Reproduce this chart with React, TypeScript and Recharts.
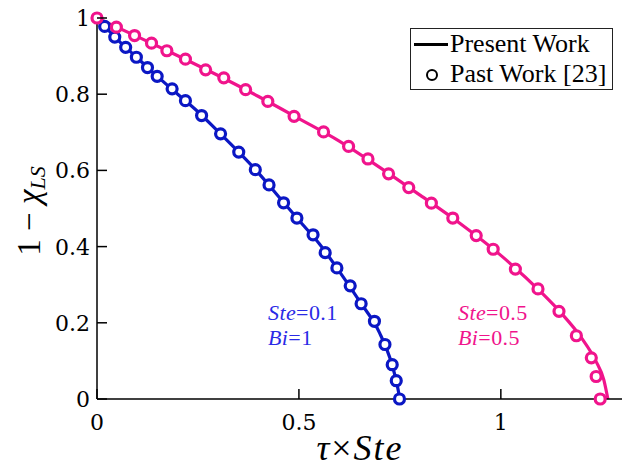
import React from 'react';
import { ComposedChart, Line, Scatter, XAxis, YAxis, Legend } from 'recharts';

const xTicks = [0, 0.5, 1];
const yTicks = [0, 0.2, 0.4, 0.6, 0.8, 1];

// Ste = 0.1, Bi = 1 (present work, solid line)
const blueLineX = [0, 0.05, 0.1, 0.15, 0.2, 0.25, 0.3, 0.35, 0.4, 0.45, 0.5, 0.55, 0.6, 0.65, 0.7, 0.73, 0.741, 0.75];
const blueLineY = [1, 0.944, 0.895, 0.846, 0.8, 0.754, 0.702, 0.649, 0.593, 0.531, 0.469, 0.408, 0.335, 0.257, 0.173, 0.092, 0.048, 0];
// Ste = 0.1, Bi = 1 (past work [23], circles)
const blueMarkX = [0.019, 0.044, 0.071, 0.0975, 0.125, 0.149, 0.186, 0.219, 0.259, 0.306, 0.351, 0.392, 0.426, 0.462, 0.495, 0.535, 0.565, 0.594, 0.627, 0.654, 0.687, 0.713, 0.731, 0.741, 0.749];
const blueMarkY = [0.978, 0.95, 0.923, 0.897, 0.87, 0.847, 0.814, 0.783, 0.744, 0.696, 0.648, 0.602, 0.562, 0.515, 0.475, 0.431, 0.384, 0.344, 0.297, 0.25, 0.204, 0.143, 0.09, 0.048, 0];

// Ste = 0.5, Bi = 0.5
const pinkLineX = [0, 0.1, 0.2, 0.3, 0.4, 0.5, 0.6, 0.7, 0.8, 0.9, 1.0, 1.1, 1.15, 1.2, 1.235, 1.255, 1.265];
const pinkLineY = [1, 0.951, 0.901, 0.849, 0.794, 0.736, 0.677, 0.608, 0.535, 0.46, 0.377, 0.28, 0.225, 0.16, 0.1, 0.05, 0];
const pinkMarkX = [0, 0.048, 0.093, 0.135, 0.173, 0.219, 0.269, 0.314, 0.368, 0.423, 0.488, 0.561, 0.623, 0.671, 0.722, 0.772, 0.828, 0.881, 0.939, 0.981, 1.036, 1.092, 1.144, 1.187, 1.224, 1.236, 1.246];
const pinkMarkY = [1, 0.976, 0.954, 0.934, 0.914, 0.892, 0.864, 0.843, 0.812, 0.781, 0.742, 0.701, 0.663, 0.63, 0.591, 0.555, 0.514, 0.475, 0.429, 0.393, 0.341, 0.289, 0.23, 0.166, 0.108, 0.059, 0];

const BLUE = '#0b17c4';
const PINK = '#f0148c';
const TICK_FONT = "'DejaVu Serif'";
const TEXT_FONT = "'Liberation Serif'";

const zip = (xs: number[], ys: number[]) => xs.map((x, i) => ({ x, y: ys[i] }));

const blueLine = zip(blueLineX, blueLineY);
const blueMarks = zip(blueMarkX, blueMarkY);
const pinkLine = zip(pinkLineX, pinkLineY);
const pinkMarks = zip(pinkMarkX, pinkMarkY);

const BottomTick = (props: any) => {
    const { x, y, payload } = props;
    return (
        <g>
            <line x1={x} x2={x} y1={y} y2={y - 10} stroke="#000" strokeWidth={1.5} />
            <text x={x} y={y + 31} textAnchor="middle" style={{ fontFamily: TICK_FONT, fontSize: 22 }} fill="#000">
                {String(payload.value)}
            </text>
        </g>
    );
};

const TopTick = (props: any) => {
    const { x, y } = props;
    return <line x1={x} x2={x} y1={y} y2={y + 10} stroke="#000" strokeWidth={1.5} />;
};

const LeftTick = (props: any) => {
    const { x, y, payload } = props;
    return (
        <g>
            <line x1={x} x2={x + 10} y1={y} y2={y} stroke="#000" strokeWidth={1.5} />
            <text x={x - 7} y={y + 8} textAnchor="end" style={{ fontFamily: TICK_FONT, fontSize: 22 }} fill="#000">
                {String(payload.value)}
            </text>
        </g>
    );
};

const RightTick = (props: any) => {
    const { x, y } = props;
    return <line x1={x} x2={x - 10} y1={y} y2={y} stroke="#000" strokeWidth={1.5} />;
};

const Ring = (color: string) => (props: any) => (
    <circle cx={props.cx} cy={props.cy} r={5} fill="#fff" stroke={color} strokeWidth={3.2} />
);

const LegendBox = () => (
    <div
        style={{
            width: 203,
            height: 62,
            boxSizing: 'border-box',
            border: '1.2px solid #222',
            background: '#fff',
            fontFamily: TEXT_FONT,
            fontSize: 26,
            color: '#000',
            position: 'relative',
        }}
    >
        <div style={{ position: 'absolute', left: 3, top: 14, width: 34, height: 2.5, background: '#000' }} />
        <div style={{ position: 'absolute', left: 39, top: 0, lineHeight: '30px', whiteSpace: 'nowrap' }}>Present Work</div>
        <div
            style={{
                position: 'absolute', left: 15, top: 40, width: 8, height: 8,
                borderRadius: '50%', border: '2.5px solid #000',
            }}
        />
        <div style={{ position: 'absolute', left: 39, top: 30, lineHeight: '30px', whiteSpace: 'nowrap' }}>Past Work [23]</div>
    </div>
);

const textStyle = (size: number, italic = false, spacing = 0) => ({
    fontFamily: TEXT_FONT,
    fontSize: size,
    fontStyle: italic ? 'italic' : 'normal',
    letterSpacing: spacing,
});

export default function App() {
    return (
        <div style={{ position: 'absolute', left: 0, top: 0, width: 629, height: 475, background: '#fff' }}>
            <ComposedChart width={629} height={475} margin={{ top: 18, right: 7, bottom: 0, left: 0 }}>
                <XAxis
                    xAxisId="b" dataKey="x" type="number" domain={[0, 1.3]} ticks={xTicks}
                    height={76} tickSize={0} tickMargin={0} tickLine={false}
                    axisLine={{ stroke: '#000', strokeWidth: 1.5 }} tick={<BottomTick />}
                />
                <XAxis
                    xAxisId="t" dataKey="x" type="number" orientation="top" domain={[0, 1.3]} ticks={xTicks}
                    height={0} tickSize={0} tickMargin={0} tickLine={false}
                    axisLine={{ stroke: '#000', strokeWidth: 1.5 }} tick={<TopTick />}
                />
                <YAxis
                    yAxisId="l" dataKey="y" type="number" domain={[0, 1]} ticks={yTicks}
                    width={97} tickSize={0} tickMargin={0} tickLine={false}
                    axisLine={{ stroke: '#000', strokeWidth: 1.5 }} tick={<LeftTick />}
                />
                <YAxis
                    yAxisId="r" dataKey="y" type="number" orientation="right" domain={[0, 1]} ticks={yTicks}
                    width={0} tickSize={0} tickMargin={0} tickLine={false}
                    axisLine={{ stroke: '#000', strokeWidth: 1.5 }} tick={<RightTick />}
                />
                <Line
                    xAxisId="b" yAxisId="l" data={blueLine} dataKey="y" type="monotone"
                    stroke={BLUE} strokeWidth={3.2} dot={false} isAnimationActive={false} name="Present Work"
                />
                <Scatter
                    xAxisId="b" yAxisId="l" data={blueMarks} dataKey="y"
                    shape={Ring(BLUE)} isAnimationActive={false} name="Past Work [23]"
                />
                <Line
                    xAxisId="t" yAxisId="r" data={pinkLine} dataKey="y" type="monotone"
                    stroke={PINK} strokeWidth={3.2} dot={false} isAnimationActive={false} name="Present Work "
                />
                <Scatter
                    xAxisId="t" yAxisId="r" data={pinkMarks} dataKey="y"
                    shape={Ring(PINK)} isAnimationActive={false} name="Past Work [23] "
                />
                <Legend
                    layout="vertical" align="center" verticalAlign="middle"
                    content={<LegendBox />}
                    wrapperStyle={{ position: 'absolute', left: 410, top: 28, width: 203, height: 62 }}
                />
            </ComposedChart>
            <svg width={629} height={475} style={{ position: 'absolute', left: 0, top: 0, pointerEvents: 'none' }}>
                <text x={360} y={460} textAnchor="middle" fill="#000" style={textStyle(36, false, 2)}>
                    <tspan style={textStyle(36, true, 2)}>τ</tspan>
                    <tspan>×</tspan>
                    <tspan style={textStyle(36, true, 2)}>Ste</tspan>
                </text>
                <text transform="translate(40,211) rotate(-90)" textAnchor="middle" fill="#000" style={textStyle(33)}>
                    <tspan>1 − </tspan>
                    <tspan style={textStyle(33, true)}>χ</tspan>
                    <tspan style={textStyle(22, true)} dy={5}>LS</tspan>
                </text>
                <text x={268} y={320} fill="#2a2ae6" style={textStyle(22, false, 0.4)}>
                    <tspan style={textStyle(22, true, 0.4)}>Ste</tspan>
                    <tspan>=0.1</tspan>
                </text>
                <text x={268} y={345} fill="#2a2ae6" style={textStyle(22, false, 0.4)}>
                    <tspan style={textStyle(22, true, 0.4)}>Bi</tspan>
                    <tspan>=1</tspan>
                </text>
                <text x={458} y={320} fill={PINK} style={textStyle(22, false, 0.4)}>
                    <tspan style={textStyle(22, true, 0.4)}>Ste</tspan>
                    <tspan>=0.5</tspan>
                </text>
                <text x={458} y={345} fill={PINK} style={textStyle(22, false, 0.4)}>
                    <tspan style={textStyle(22, true, 0.4)}>Bi</tspan>
                    <tspan>=0.5</tspan>
                </text>
            </svg>
        </div>
    );
}
